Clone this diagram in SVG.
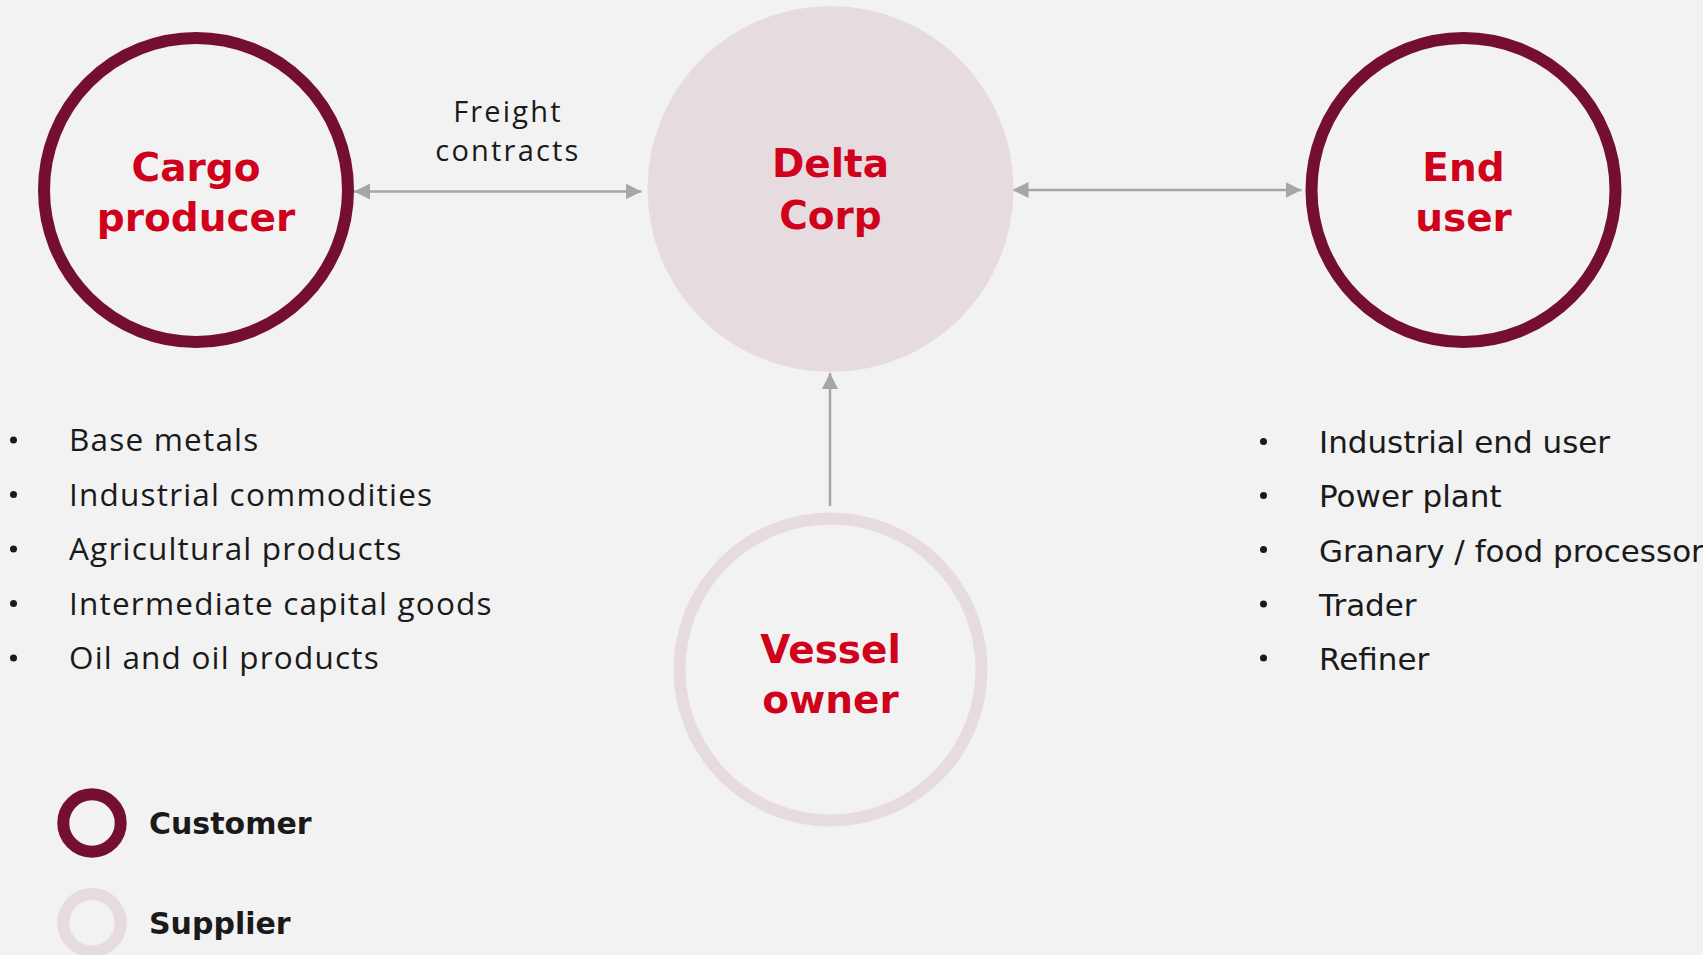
<svg xmlns="http://www.w3.org/2000/svg" width="1703" height="955" viewBox="0 0 1703 955">
  <style>
    .ring-customer { fill: none; stroke: #750F2F; stroke-width: 12; }
    .ring-supplier { fill: none; stroke: #E6DCE0; stroke-width: 12; }
    .hub { fill: #E6DCE0; }
    .node-label { font-family: "DejaVu Sans", "Liberation Sans", sans-serif; font-weight: bold; font-size: 39px; fill: #D0021B; text-anchor: middle; }
    .edge { stroke: #A6A6A6; stroke-width: 2.5; fill: none; }
    .edge-label { font-family: "Open Sans", "Liberation Sans", sans-serif; font-size: 29px; letter-spacing: 2.2px; fill: #1A1A1A; text-anchor: middle; }
    .list-left { font-family: "Open Sans", "Liberation Sans", sans-serif; font-size: 31.5px; letter-spacing: 1.2px; fill: #1A1A1A; }
    .list-right { font-family: "DejaVu Sans", "Liberation Sans", sans-serif; font-size: 31px; fill: #1A1A1A; }
    .bullet { fill: #1A1A1A; }
    .legend-label { font-family: "DejaVu Sans", "Liberation Sans", sans-serif; font-weight: bold; font-size: 30px; fill: #1A1A1A; }
  </style>
  <defs>
    <marker id="head" viewBox="0 0 16 16" refX="16" refY="8" markerWidth="16" markerHeight="16" markerUnits="userSpaceOnUse" orient="auto-start-reverse">
      <path d="M0,0 L16,8 L0,16 Z" fill="#A6A6A6"/>
    </marker>
  </defs>

  <rect width="1703" height="955" fill="#F2F2F2"/>

  <!-- connectors -->
  <g id="connectors">
    <line class="edge" x1="354" y1="191.5" x2="641.5" y2="191.5" marker-start="url(#head)" marker-end="url(#head)"/>
    <line class="edge" x1="1012.5" y1="190" x2="1301.5" y2="190" marker-start="url(#head)" marker-end="url(#head)"/>
    <line class="edge" x1="830" y1="506" x2="830" y2="373" marker-end="url(#head)"/>
    <text class="edge-label" x="508" y="121.5">Freight</text>
    <text class="edge-label" x="508" y="161">contracts</text>
  </g>

  <!-- nodes -->
  <g id="cargo-producer">
    <circle class="ring-customer" cx="196" cy="190" r="152"/>
    <text class="node-label" x="196" y="181">Cargo</text>
    <text class="node-label" x="196" y="231">producer</text>
  </g>

  <g id="delta-corp">
    <circle class="hub" cx="830.5" cy="189" r="183"/>
    <text class="node-label" x="830.5" y="177">Delta</text>
    <text class="node-label" x="830.5" y="229">Corp</text>
  </g>

  <g id="end-user">
    <circle class="ring-customer" cx="1463.5" cy="190" r="152"/>
    <text class="node-label" x="1463.5" y="181">End</text>
    <text class="node-label" x="1463.5" y="231">user</text>
  </g>

  <g id="vessel-owner">
    <circle class="ring-supplier" cx="830.5" cy="669.5" r="151"/>
    <text class="node-label" x="830.5" y="663">Vessel</text>
    <text class="node-label" x="830.5" y="713">owner</text>
  </g>

  <!-- producer cargo types -->
  <g id="cargo-list">
    <circle class="bullet" cx="13.5" cy="440" r="3.5"/>
    <circle class="bullet" cx="13.5" cy="494.5" r="3.5"/>
    <circle class="bullet" cx="13.5" cy="549" r="3.5"/>
    <circle class="bullet" cx="13.5" cy="603.5" r="3.5"/>
    <circle class="bullet" cx="13.5" cy="658" r="3.5"/>
    <text class="list-left" x="69" y="451">Base metals</text>
    <text class="list-left" x="69" y="505.5">Industrial commodities</text>
    <text class="list-left" x="69" y="560">Agricultural products</text>
    <text class="list-left" x="69" y="614.5">Intermediate capital goods</text>
    <text class="list-left" x="69" y="669">Oil and oil products</text>
  </g>

  <!-- end user types -->
  <g id="end-user-list">
    <circle class="bullet" cx="1263.5" cy="441.5" r="3.5"/>
    <circle class="bullet" cx="1263.5" cy="495.5" r="3.5"/>
    <circle class="bullet" cx="1263.5" cy="549.5" r="3.5"/>
    <circle class="bullet" cx="1263.5" cy="604" r="3.5"/>
    <circle class="bullet" cx="1263.5" cy="658" r="3.5"/>
    <text class="list-right" x="1319" y="453">Industrial end user</text>
    <text class="list-right" x="1319" y="507">Power plant</text>
    <text class="list-right" x="1319" y="561.5">Granary / food processor</text>
    <text class="list-right" x="1319" y="616">Trader</text>
    <text class="list-right" x="1319" y="670">Refiner</text>
  </g>

  <!-- legend -->
  <g id="legend-customer">
    <circle class="ring-customer" cx="92" cy="823" r="28.7"/>
    <text class="legend-label" x="149" y="834">Customer</text>
  </g>
  <g id="legend-supplier">
    <circle class="ring-supplier" cx="92" cy="922.7" r="28.7"/>
    <text class="legend-label" x="149" y="934">Supplier</text>
  </g>
</svg>
